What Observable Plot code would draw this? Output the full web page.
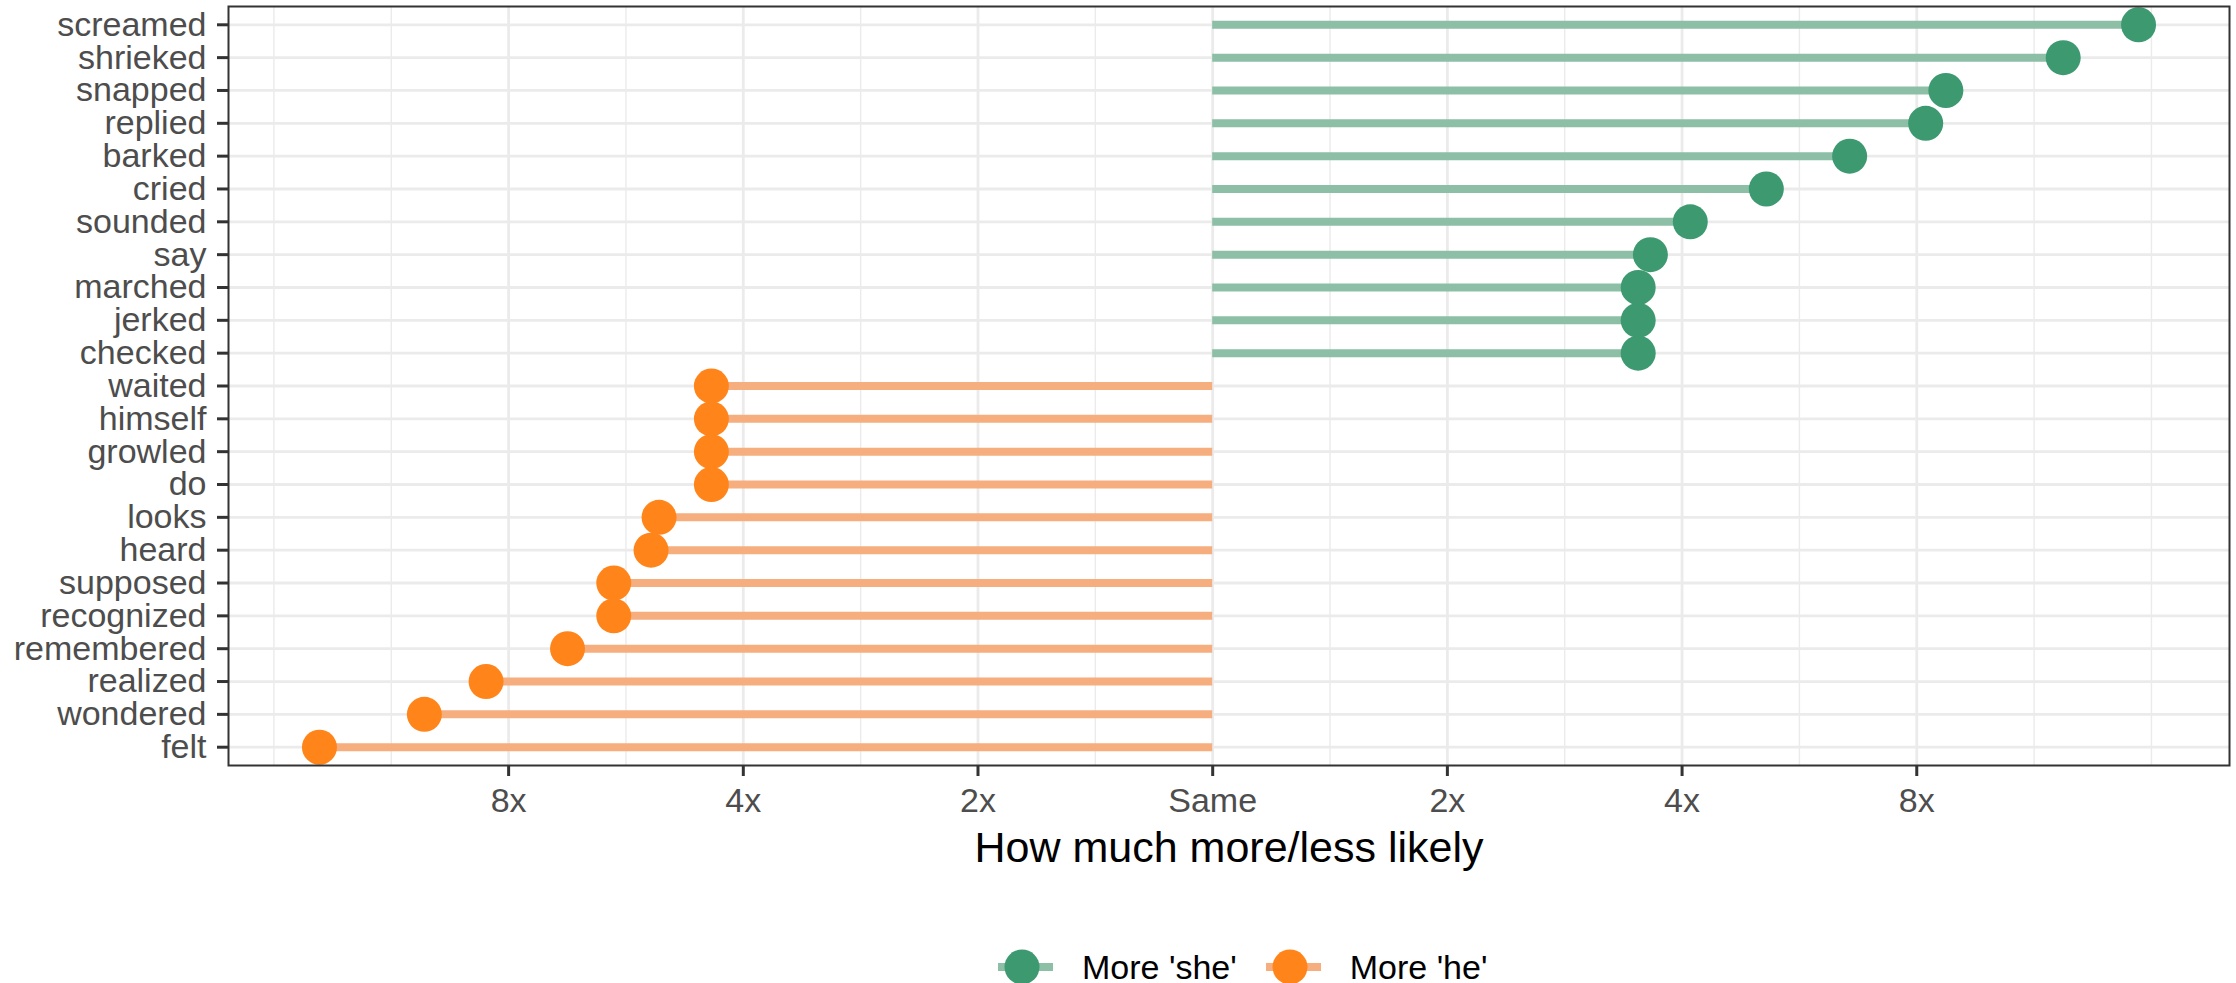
<!DOCTYPE html>
<html>
<head>
<meta charset="utf-8">
<script src="https://cdn.jsdelivr.net/npm/d3@7"></script>
<script src="https://cdn.jsdelivr.net/npm/@observablehq/plot@0.6"></script>
<style>
  html, body { margin: 0; padding: 0; background: #fff; overflow: hidden; }
  body { position: relative; width: 2236px; height: 983px; font-family: "Liberation Sans", Arial, Helvetica, sans-serif; }
  #legend { position: absolute; top: 947px; left: 998px; height: 40px; display: flex; align-items: center; font-size: 34px; color: #000; white-space: nowrap; }
  #legend .item { display: flex; align-items: center; }
  #legend .item + .item { margin-left: 29px; }
  #legend svg { display: block; }
  #legend span { margin-left: 29px; }
</style>
</head>
<body>
<div id="chart"></div>
<div id="legend"></div>
<script>
// ---- data ----
const words = ["screamed","shrieked","snapped","replied","barked","cried","sounded","say","marched","jerked","checked",
               "waited","himself","growled","do","looks","heard","supposed","recognized","remembered","realized","wondered","felt"];
// log2 of the ratio (positive = more 'she', negative = more 'he')
const log2Ratio = [3.945,3.624,3.124,3.038,2.714,2.359,2.035,1.865,1.813,1.813,1.813,
                   -2.136,-2.136,-2.136,-2.136,-2.359,-2.393,-2.552,-2.552,-2.749,-3.096,-3.359,-3.806];
const seriesNames = ["More 'she'", "More 'he'"];
const seriesColors = ["#3D9970", "#FF851B"];
const stemColors = ["#8CBFA6", "#F7AE7E"];
const xTicks = [-3, -2, -1, 0, 1, 2, 3];
const xTickLabels = ["8x", "4x", "2x", "Same", "2x", "4x", "8x"];
const xMinorBreaks = [-4, -3.5, -2.5, -1.5, -0.5, 0.5, 1.5, 2.5, 3.5, 4];
const xTitle = "How much more/less likely";

const rows = words.map((w, i) => {
  const k = log2Ratio[i] >= 0 ? 0 : 1;
  return { word: w, value: log2Ratio[i], series: seriesNames[k], stem: stemColors[k] };
});

const lo = d3.min(log2Ratio), hi = d3.max(log2Ratio), ext = (hi - lo) * 0.05;

const W = 2236, H = 940;
const chart = Plot.plot({
  width: W,
  height: H,
  marginTop: 6,
  marginBottom: H - 765,
  marginLeft: 228,
  marginRight: 7,
  style: { fontFamily: '"Liberation Sans", Arial, Helvetica, sans-serif', fontSize: "34px", background: "#fff", overflow: "visible" },
  x: { domain: [lo - ext, hi + ext], axis: null },
  y: { type: "point", domain: words, padding: 0.557, round: false, axis: null },
  color: { domain: seriesNames, range: seriesColors },
  marks: [
    Plot.ruleX(xMinorBreaks, { stroke: "#EBEBEB", strokeWidth: 1.4 }),
    Plot.ruleX(xTicks, { stroke: "#EBEBEB", strokeWidth: 2.8 }),
    Plot.ruleY(words, { y: d => d, stroke: "#EBEBEB", strokeWidth: 2.8 }),
    Plot.ruleY(rows, { y: "word", x1: 0, x2: "value", stroke: d => d.stem, strokeWidth: 8 }),
    Plot.dot(rows, { x: "value", y: "word", fill: "series", r: 17.5, stroke: null }),
    Plot.frame({ stroke: "#333333", strokeWidth: 2 }),
    Plot.axisY({ tickSize: 11, tickPadding: 11, stroke: "#333333", strokeWidth: 3, fill: "#4D4D4D", fontSize: 34, label: null }),
    Plot.axisX({ ticks: xTicks, tickFormat: d => xTickLabels[xTicks.indexOf(d)], tickSize: 11, tickPadding: 11,
                 stroke: "#333333", strokeWidth: 3, fill: "#4D4D4D", fontSize: 34, label: null }),
    Plot.text([xTitle], { text: d => d, frameAnchor: "bottom", dy: 83, fontSize: 43, fill: "#000", lineAnchor: "middle" })
  ]
});
document.getElementById("chart").appendChild(chart);

// ---- legend (HTML below the SVG) ----
const legend = document.getElementById("legend");
seriesNames.forEach((name, i) => {
  const item = document.createElement("div");
  item.className = "item";
  const ns = "http://www.w3.org/2000/svg";
  const svg = document.createElementNS(ns, "svg");
  svg.setAttribute("width", 55);
  svg.setAttribute("height", 40);
  const line = document.createElementNS(ns, "line");
  line.setAttribute("x1", 0); line.setAttribute("x2", 55);
  line.setAttribute("y1", 20); line.setAttribute("y2", 20);
  line.setAttribute("stroke", stemColors[i]);
  line.setAttribute("stroke-width", 8);
  const c = document.createElementNS(ns, "circle");
  c.setAttribute("cx", 24); c.setAttribute("cy", 20); c.setAttribute("r", 17.5);
  c.setAttribute("fill", seriesColors[i]);
  svg.appendChild(line); svg.appendChild(c);
  const span = document.createElement("span");
  span.textContent = name;
  item.appendChild(svg); item.appendChild(span);
  legend.appendChild(item);
});
</script>
</body>
</html>
